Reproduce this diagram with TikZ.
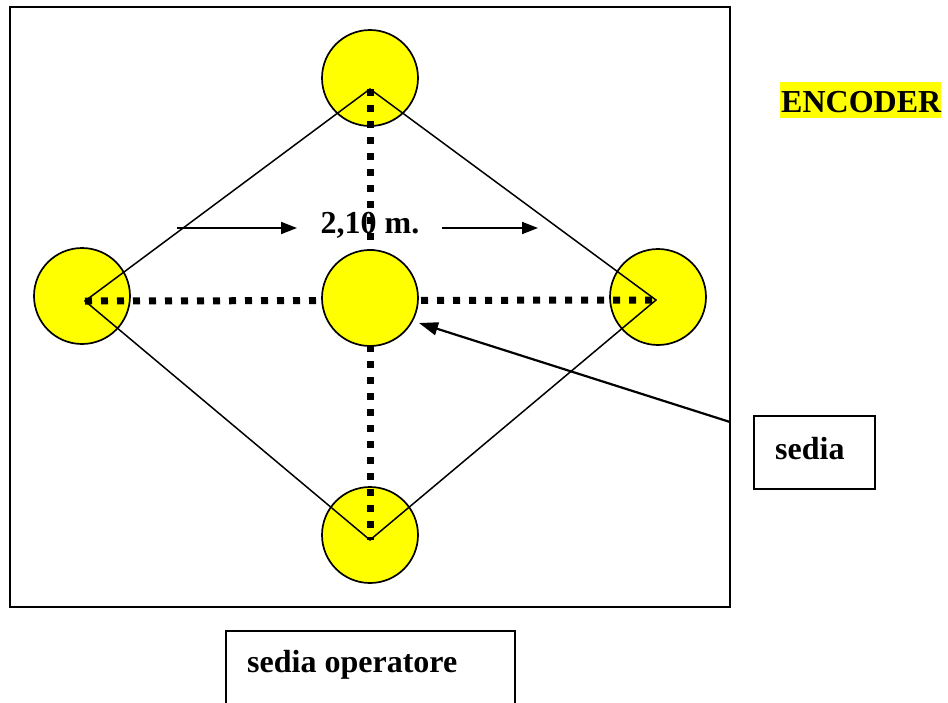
\documentclass[tikz,border=0pt]{standalone}
\usepackage{fontspec}
\setmainfont{Liberation Serif}
\usetikzlibrary{arrows.meta}
\definecolor{pureyellow}{RGB}{255,255,0}
\begin{document}
\begin{tikzpicture}[x=1pt,y=-1pt,
  seat/.style={circle,draw=black,fill=pureyellow,line width=1.7pt,minimum size=96pt,inner sep=0pt},
  frame/.style={draw=black,line width=1.8pt},
  diam/.style={draw=black,line width=1.5pt},
  dots/.style={draw=black,line width=7pt,dash pattern=on 7pt off 9pt},
  lbl/.style={font=\fontsize{32}{37}\selectfont\bfseries,inner sep=0pt},
  arr/.style={draw=black,line width=1.8pt,-{Triangle[length=16pt,width=12pt]}},
  bigarr/.style={draw=black,line width=2.2pt,-{Triangle[length=19pt,width=13pt]}}
]
\useasboundingbox (0,0) rectangle (948,702);
\fill[white] (0,0) rectangle (948,702);
% frame
\draw[frame] (10,7) rectangle (730,607);
% outer seats
\node[seat] (top) at (370,78) {};
\node[seat] (left) at (82,296) {};
\node[seat] (right) at (658,297) {};
\node[seat] (bottom) at (370,535) {};
% diamond vertices
\coordinate (vt) at (370,89);
\coordinate (vl) at (85,301);
\coordinate (vr) at (656,300);
\coordinate (vb) at (370,540);
\draw[diam] (vt) -- (vl) -- (vb) -- (vr) -- cycle;
% distance label
\node[lbl,anchor=base] (dist) at (370,233) {2,10 m.};
% dotted axes
\draw[dots] (vt) -- (vb);
\draw[dots] (vl) -- (vr);
% centre seat
\node[seat] (centre) at (370,298) {};
% distance arrows
\coordinate (a1s) at (177,228);
\coordinate (a1e) at (297,228);
\coordinate (a2s) at (442,228);
\coordinate (a2e) at (538,228);
\draw[arr] (a1s) -- (a1e);
\draw[arr] (a2s) -- (a2e);
% encoder label
\fill[pureyellow] (780,82) rectangle (941,118);
\node[lbl,anchor=base west] (enc) at (781,112) {ENCODER};
% sedia box
\draw[frame,line width=1.5pt] (754,416) rectangle (875,489);
\node[lbl,anchor=base west] (sedia) at (775,459) {sedia};
\coordinate (sfrom) at (730,422);
\coordinate (sto) at (419,323);
\draw[bigarr] (sfrom) -- (sto);
% sedia operatore box
\draw[frame,line width=1.5pt] (226,631) rectangle (515,720);
\node[lbl,anchor=base west] (oper) at (247,672) {sedia operatore};
\end{tikzpicture}
\end{document}
